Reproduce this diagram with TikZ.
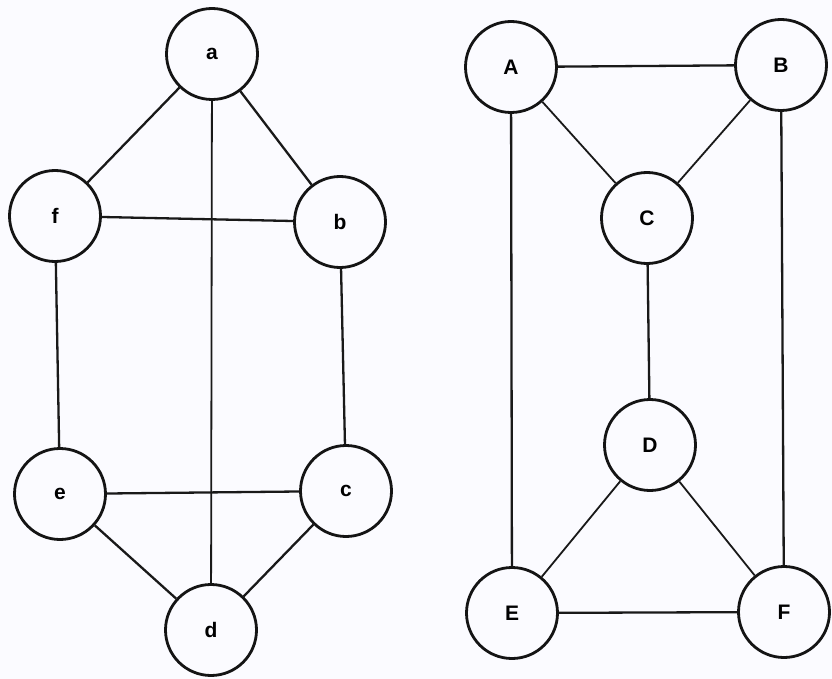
\documentclass[tikz,border=0pt]{standalone}
\usepackage{fontspec}
\setsansfont{Liberation Sans}
\begin{document}
\begin{tikzpicture}[x=1pt,y=-1pt,
  vtx/.style={circle,draw=black!92,line width=2.8pt,minimum size=91pt,inner sep=0pt,fill=none,
              font=\sffamily\bfseries\fontsize{21}{21}\selectfont},
  edge/.style={draw=black!90,line width=2.3pt},
  thin edge/.style={draw=black!90,line width=1.8pt}]
\fill[white!96!gray!60!blue!4] (0,0) rectangle (832,679);
\useasboundingbox (0,0) rectangle (832,679);
% left graph
\node[vtx] (a) at (212,54) {a};
\node[vtx] (f) at (55,216) {f};
\node[vtx] (b) at (340,222) {b};
\node[vtx] (e) at (60,494) {e};
\node[vtx] (c) at (346,491) {c};
\node[vtx] (d) at (211,630) {d};
% right graph
\node[vtx] (A) at (511,67) {A};
\node[vtx] (B) at (781,65) {B};
\node[vtx] (C) at (647,218) {C};
\node[vtx] (D) at (650,445) {D};
\node[vtx] (E) at (512,613) {E};
\node[vtx] (F) at (784,612) {F};
% left edges
\draw[edge] (a) -- (f);
\draw[edge] (a) -- (b);
\draw[thin edge] (a) -- (d);
\draw[edge] (f) -- (b);
\draw[edge] (f) -- (e);
\draw[edge] (b) -- (c);
\draw[edge] (e) -- (c);
\draw[edge] (e) -- (d);
\draw[edge] (c) -- (d);
% right edges
\draw[edge] (A) -- (B);
\draw[thin edge] (A) -- (C);
\draw[thin edge] (B) -- (C);
\draw[edge] (A) -- (E);
\draw[edge] (B) -- (F);
\draw[edge] (C) -- (D);
\draw[thin edge] (D) -- (E);
\draw[thin edge] (D) -- (F);
\draw[edge] (E) -- (F);
\end{tikzpicture}
\end{document}
